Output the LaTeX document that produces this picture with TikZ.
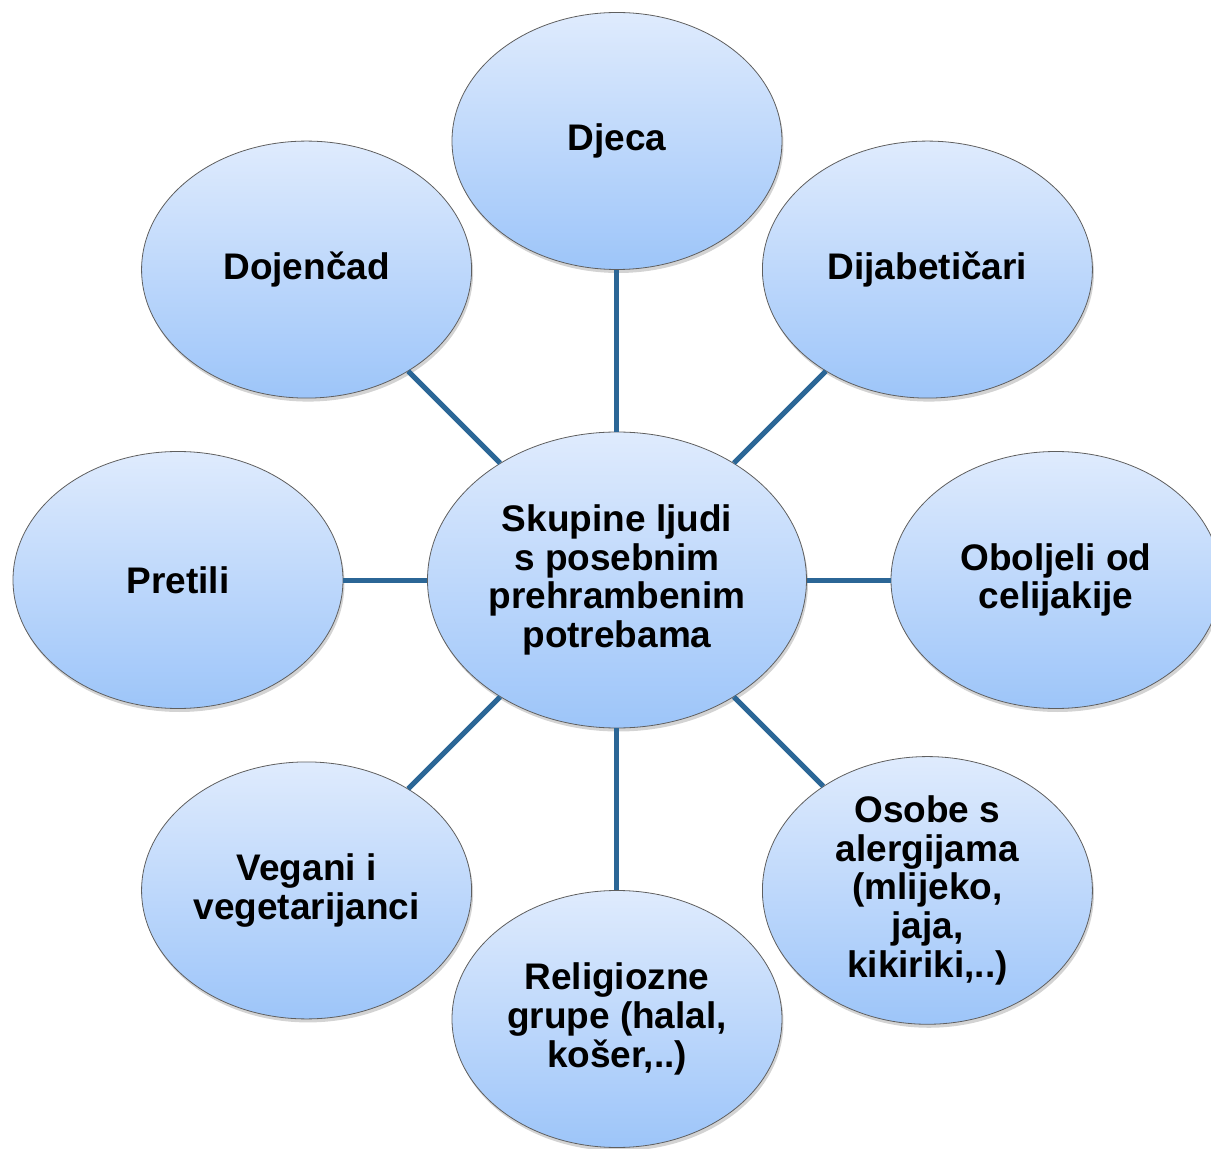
\documentclass[tikz,border=0pt]{standalone}
\usepackage{fontspec}
\setmainfont{Liberation Sans}
\usepackage{tikz}
\usetikzlibrary{positioning,shadows,shapes.geometric}
\definecolor{linkblue}{RGB}{43,102,150}
\definecolor{bubbletop}{RGB}{223,235,253}
\definecolor{bubblebot}{RGB}{157,197,249}
\definecolor{bubbleedge}{RGB}{95,95,95}

\begin{document}
\begin{tikzpicture}[x=1pt, y=1pt,
  bubble/.style={ellipse, draw=bubbleedge, line width=0.8pt,
    top color=bubbletop, bottom color=bubblebot,
    drop shadow={opacity=0.35, shadow xshift=1.5pt, shadow yshift=-3.5pt},
    minimum width=330pt, minimum height=257pt, inner sep=0pt,
    align=center, font=\fontsize{37}{38.7}\selectfont\bfseries},
  hub/.style={bubble, minimum width=379pt, minimum height=296pt},
  link/.style={draw=linkblue, line width=5pt}]
  \useasboundingbox (-617,-569) rectangle (594,580);

  \node[hub] (hub) at (0,0) {Skupine ljudi\\s posebnim\\prehrambenim\\potrebama};
  \node[bubble] (djeca) at (90:439pt) {Djeca};
  \node[bubble] (dijab) at (45:439pt) {Dijabetičari};
  \node[bubble] (celij) at (0:439pt) {Oboljeli od\\celijakije};
  \node[bubble] (alerg) at (-45:439pt) {Osobe s\\alergijama\\(mlijeko,\\jaja,\\kikiriki,..)};
  \node[bubble] (relig) at (-90:439pt) {Religiozne\\grupe (halal,\\košer,..)};
  \node[bubble] (vegan) at (-135:439pt) {Vegani i\\vegetarijanci};
  \node[bubble] (pretil) at (180:439pt) {Pretili};
  \node[bubble] (dojen) at (135:439pt) {Dojenčad};

  \draw[link] (hub) -- (djeca);
  \draw[link] (hub) -- (dijab);
  \draw[link] (hub) -- (celij);
  \draw[link] (hub) -- (alerg);
  \draw[link] (hub) -- (relig);
  \draw[link] (hub) -- (vegan);
  \draw[link] (hub) -- (pretil);
  \draw[link] (hub) -- (dojen);
\end{tikzpicture}
\end{document}
